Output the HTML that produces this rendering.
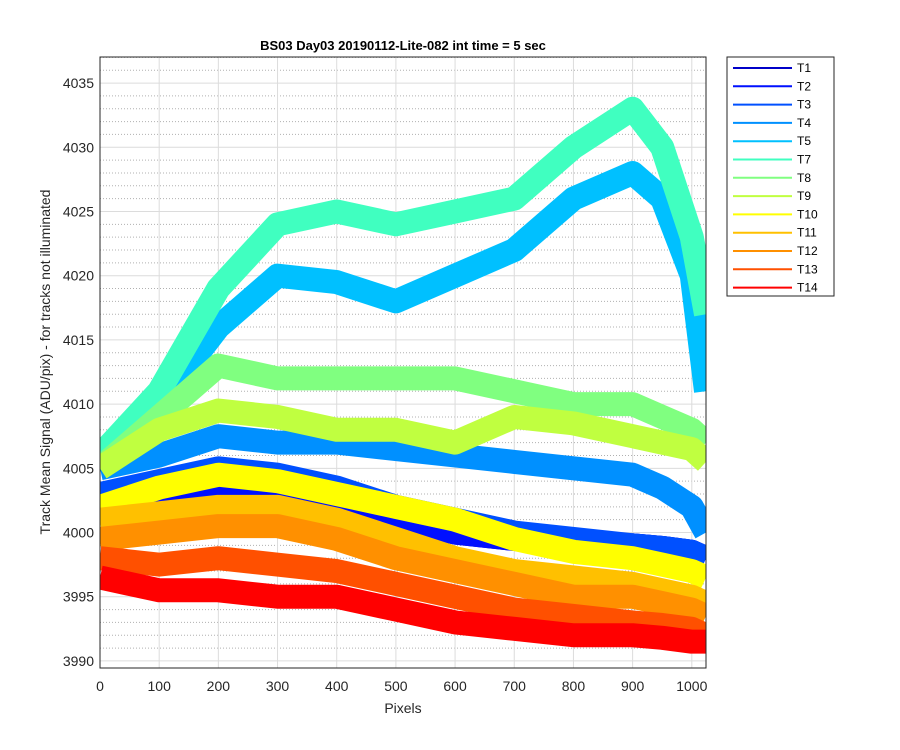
<!DOCTYPE html>
<html><head><meta charset="utf-8"><style>
body{margin:0;background:#fff;}
svg{display:block;font-family:"Liberation Sans",Arial,sans-serif;}
</style></head><body>
<svg id="chart" width="900" height="750">
<defs><clipPath id="plotclip"><rect x="100" y="57" width="606" height="611"/></clipPath></defs>
<rect x="0" y="0" width="900" height="750" fill="#fff"/>
<rect x="100" y="57" width="606" height="611" fill="#fff"/>
<g id="grid"></g>
<g id="series" clip-path="url(#plotclip)"></g>
<rect x="100" y="57" width="606" height="611" fill="none" stroke="#262626" stroke-width="1"/>
<g id="ticks"></g>
<text x="403" y="50" text-anchor="middle" font-size="13" font-weight="bold" fill="#000">BS03 Day03 20190112-Lite-082 int time = 5 sec</text>
<text x="403" y="713" text-anchor="middle" font-size="14" fill="#262626">Pixels</text>
<text transform="translate(50,362) rotate(-90)" text-anchor="middle" font-size="14" fill="#262626">Track Mean Signal (ADU/pix) - for tracks not illuminated</text>
<g id="legend"></g>
</svg>
<script>
const xs = [0,100,200,300,400,500,600,700,800,900,950,1000,1024];
const names = ["T1","T2","T3","T4","T5","T7","T8","T9","T10","T11","T12","T13","T14"];
const colors = ["#0000c8","#0010ff","#0050ff","#0090ff","#00c0ff","#40ffc0","#80ff80","#c0ff40","#ffff00","#ffc000","#ff9000","#ff5000","#ff0000"];
const T1 = [4001.5,4002,4002.5,4002.5,4001.5,4001,4000,3999.5,3999,3999,3998.8,3998.5,3998];
const T2 = [4002,4002.5,4003,4003,4002,4001,4000,3999.5,3999,3999,3998.8,3998.5,3998];
const T3 = [4003,4004,4005,4004.5,4003.5,4002,4001,4000,3999.5,3999,3998.8,3998.5,3998];
const T4 = [4005,4006,4007.5,4007,4007,4006.5,4006,4005.5,4005,4004.5,4003.5,4002,4000];
const T5 = [4006,4010,4016,4020,4019.5,4018,4020,4022,4026,4028,4026,4020,4011];
const T7 = [4006,4011,4019,4024,4025,4024,4025,4026,4030,4033,4030,4023,4017];
const T8 = [4005,4009,4013,4012,4012,4012,4012,4011,4010,4010,4009,4008,4007];
const T9 = [4005,4008,4009.5,4009,4008,4008,4007,4009,4008.5,4007.5,4007,4006.5,4005.5];
const T10 = [4002,4003.5,4004.5,4004,4003,4002,4001,3999.5,3998.5,3998,3997.5,3997,3996.5];
const T11 = [4001,4001.5,4002,4002,4001,3999.5,3998,3997,3996.5,3996,3995.5,3995,3994.5];
const T12 = [3999.5,4000,4000.5,4000.5,3999.5,3998,3997,3996,3995,3995,3994.5,3994,3993.5];
const T13 = [3998,3997.5,3998,3997.5,3997,3996,3995,3994,3993.5,3993,3992.8,3992.5,3992];
const T14 = [3996.5,3995.5,3995.5,3995,3995,3994,3993,3992.5,3992,3992,3991.8,3991.5,3991.5];
const seriesVals = [T1,T2,T3,T4,T5,T7,T8,T9,T10,T11,T12,T13,T14];
const xTicks = [0,100,200,300,400,500,600,700,800,900,1000];
const yTicks = [3990,3995,4000,4005,4010,4015,4020,4025,4030,4035];

const X0=100,X1=706,Y0=57,Y1=668, xmin=0,xmax=1024, ymin=3989.45, ymax=4037.03;
const sx=v=>X0+(v-xmin)/(xmax-xmin)*(X1-X0);
const sy=v=>Y1-(v-ymin)/(ymax-ymin)*(Y1-Y0);
const NS="http://www.w3.org/2000/svg";
function mk(t,a,p){const e=document.createElementNS(NS,t);for(const k in a)e.setAttribute(k,a[k]);p.appendChild(e);return e;}
const grid=document.getElementById('grid'), ticks=document.getElementById('ticks');
for(let v=3990; v<=4037; v++){
  if(v%5===0) continue;
  const l=mk('line',{x1:X0,x2:X1,y1:sy(v),y2:sy(v),stroke:'#b0b0b0','stroke-dasharray':'1,2','stroke-width':1},grid);
  
  
}
yTicks.forEach(v=>{
  const l=mk('line',{x1:X0,x2:X1,y1:sy(v),y2:sy(v),stroke:'#dcdcdc','stroke-width':1},grid);
  
  
  const t=mk('text',{x:X0-6,y:sy(v)+5,'text-anchor':'end','font-size':14,fill:'#262626'},ticks);
  t.textContent=v;
  
  
});
xTicks.forEach(v=>{
  const l=mk('line',{x1:sx(v),x2:sx(v),y1:Y0,y2:Y1,stroke:'#dcdcdc','stroke-width':1},grid);
  
  
  const t=mk('text',{x:sx(v),y:Y1+23,'text-anchor':'middle','font-size':14,fill:'#262626'},ticks);
  t.textContent=v;
  
  
});
const sg=document.getElementById('series');
seriesVals.forEach((vals,i)=>{
  const pts=vals.map((v,j)=>sx(xs[j])+','+sy(v)).join(' ');
  const p=mk('polyline',{points:pts,fill:'none',stroke:colors[i],'stroke-width':24,'stroke-linejoin':'round','stroke-linecap':'butt'},sg);
  
  
});
const lg=document.getElementById('legend');
const box=mk('rect',{x:727,y:57,width:107,height:239,fill:'#fff',stroke:'#262626','stroke-width':1},lg);


names.forEach((n,i)=>{
  const y=68+i*18.3;
  const l=mk('line',{x1:733,x2:792,y1:y,y2:y,stroke:colors[i],'stroke-width':2},lg);
  
  
  const t=mk('text',{x:797,y:y+4,'font-size':12,fill:'#000'},lg);
  t.textContent=n;
  
  
});
</script>
</body></html>
